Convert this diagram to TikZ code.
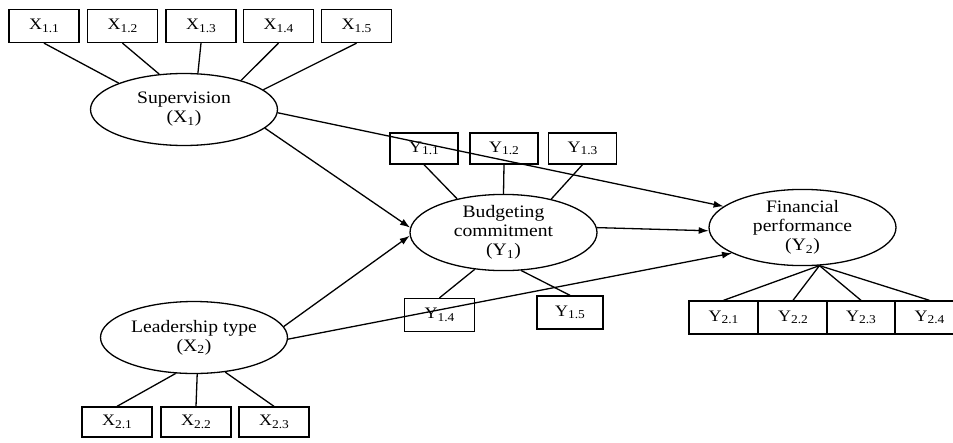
\documentclass[tikz,border=0pt]{standalone}
\usepackage{fontspec}
\setmainfont{Liberation Serif}[FakeStretch=1.12]
\usetikzlibrary{arrows.meta,shapes.geometric}
\newcommand{\idx}[1]{\raisebox{-0.35ex}{\fontsize{12}{12}\selectfont #1}}
\begin{document}
\begin{tikzpicture}[x=1pt, y=-1pt, line width=1.3pt, >={Latex[length=10pt,width=7pt]},
  every node/.style={font=\fontsize{16}{18}\selectfont},
  ind/.style={draw, rectangle, minimum width=70pt, minimum height=33pt, inner sep=0pt},
  lat/.style={draw, ellipse, minimum width=187pt, minimum height=72pt, inner sep=0pt,
    align=center, font=\fontsize{17.5}{19}\selectfont}]
  \useasboundingbox (0,0) rectangle (953,442);
  % Latent variables
  \node[lat] (sup) at (184,109.5) {Supervision\\(X\textsubscript{1})};
  \node[lat] (lead) at (194,337.5) {Leadership type\\(X\textsubscript{2})};
  \node[lat] (bud) at (503.5,232.5) {Budgeting\\commitment\\(Y\textsubscript{1})};
  \node[lat] (fin) at (802.5,227.5) {Financial\\performance\\(Y\textsubscript{2})};
  % Indicators of supervision
  \foreach \i/\x/\a in {1/44/158, 2/122.5/125, 3/201/69, 4/278.5/27, 5/356.5/14} {
    \node[ind] (x1\i) at (\x,26) {X\idx{1.\i}};
    \draw (x1\i.south) -- (sup.\a);
  }
  % Indicators of leadership type
  \foreach \i/\x/\a in {1/117/-117, 2/196/-85, 3/274/-48} {
    \node[ind, minimum height=30pt] (x2\i) at (\x,422) {X\idx{2.\i}};
    \draw (x2\i.north) -- (lead.\a);
  }
  % Indicators of budgeting commitment
  \foreach \i/\x/\y/\a in {1/424/148.5/144.5, 2/504/148.5/90, 3/582.5/148.5/35} {
    \node[ind, minimum width=68pt, minimum height=31pt] (y1\i) at (\x,\y) {Y\idx{1.\i}};
    \draw (y1\i.south) -- (bud.\a);
  }
  \node[ind] (y14) at (439.5,315) {Y\idx{1.4}};
  \node[ind, minimum width=66pt] (y15) at (570,312.5) {Y\idx{1.5}};
  \draw (y14.north) -- (bud.-128);
  \draw (y15.north) -- (bud.-65);
  % Indicators of financial performance
  \foreach \i/\x in {1/723.5, 2/793, 3/861, 4/929.5} {
    \node[ind, minimum width=69pt] (y2\i) at (\x,317.5) {Y\idx{2.\i}};
    \draw (y2\i.north) -- (fin.-66);
  }
  % Paths
  \draw[->] (sup.-2) -- (fin.165);
  \draw[->] (sup.-13.5) -- (bud.177);
  \draw[->] (lead.7.7) -- (bud.-178);
  \draw[->] (lead.-1.5) -- (fin.-160.6);
  \draw[->] (bud.3) -- (fin.-178.5);
\end{tikzpicture}
\end{document}
